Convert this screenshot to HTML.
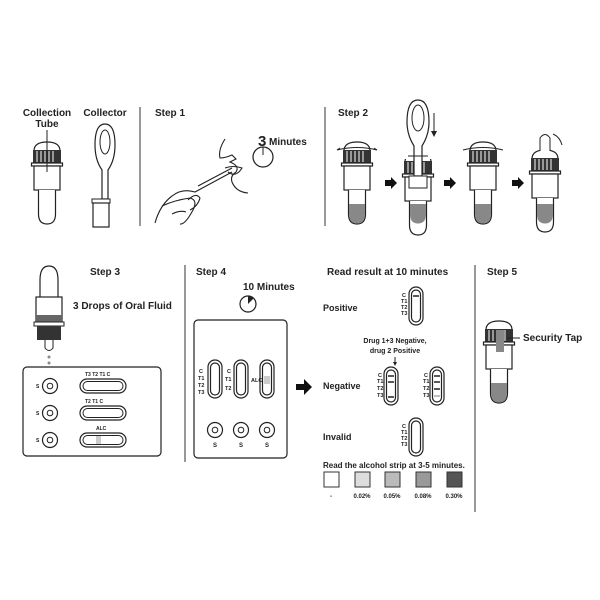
<!DOCTYPE html>
<html><head><style>html,body{margin:0;padding:0;background:#fff}svg{display:block}text{font-family:"Liberation Sans",sans-serif;font-weight:bold;fill:#222}</style></head><body>
<svg width="600" height="600" viewBox="0 0 600 600" xmlns="http://www.w3.org/2000/svg">
<defs>
<g id="tube">
 <path d="M-13 9 Q-13 0 0 0 Q13 0 13 9 V22 H-13 Z" fill="#fff" stroke="#222" stroke-width="1.2"/>
 <rect x="-14" y="8" width="28" height="13" fill="#333"/>
 <g stroke="#fff" stroke-width="1"><line x1="-10" y1="9" x2="-10" y2="20"/><line x1="-6" y1="9" x2="-6" y2="20"/><line x1="-2" y1="9" x2="-2" y2="20"/><line x1="2" y1="9" x2="2" y2="20"/><line x1="6" y1="9" x2="6" y2="20"/></g>
 <rect x="-15.5" y="21" width="31" height="3" fill="#fff" stroke="#222" stroke-width="1.2"/>
 <rect x="-13" y="24" width="26" height="24" fill="#fff" stroke="#222" stroke-width="1.2"/>
 <path d="M-8.5 48 V72 Q-8.5 82 0 82 Q8.5 82 8.5 72 V48" fill="#fff" stroke="#222" stroke-width="1.2"/>
</g>
<g id="liq"><path d="M-8 62 V72 Q-8 81.5 0 81.5 Q8 81.5 8 72 V62 Z" fill="#888"/></g>
<g id="harr"><path d="M0 -3 H6 V-6 L12 0 L6 6 V3 H0 Z" fill="#111"/></g>
<g id="strip"><rect x="-7" y="-19" width="14" height="38" rx="7" fill="#fff" stroke="#222" stroke-width="1.2"/><rect x="-4.5" y="-16" width="9" height="32" rx="4.5" fill="#fff" stroke="#222" stroke-width="1.2"/></g>
<g id="well"><circle r="7.5" fill="#fff" stroke="#222" stroke-width="1.2"/><circle r="2.8" fill="#fff" stroke="#222" stroke-width="1"/></g>
<g id="hstrip"><rect x="-23" y="-7" width="46" height="14" rx="7" fill="#fff" stroke="#222" stroke-width="1.2"/><rect x="-20" y="-4.5" width="40" height="9" rx="4.5" fill="#fff" stroke="#222" stroke-width="1"/></g>
</defs>

<g stroke="#555" stroke-width="1.2">
<line x1="140" y1="107" x2="140" y2="226"/><line x1="325" y1="107" x2="325" y2="226"/>
<line x1="185" y1="265" x2="185" y2="462"/><line x1="475" y1="265" x2="475" y2="512"/>
</g>

<text x="47" y="116" font-size="10" text-anchor="middle">Collection</text>
<text x="47" y="127" font-size="10" text-anchor="middle">Tube</text>
<text x="105" y="116" font-size="10" text-anchor="middle">Collector</text>
<use href="#tube" x="47" y="142"/>
<line x1="47" y1="130" x2="47" y2="172" stroke="#222" stroke-width="1"/>
<path d="M105 124 Q95 124 95 145 Q95 160 102 170 L102 199 H108 V170 Q115 160 115 145 Q115 124 105 124 Z" fill="#fff" stroke="#222" stroke-width="1.2"/>
<ellipse cx="105" cy="142" rx="5" ry="12" fill="#fff" stroke="#222" stroke-width="1"/>
<rect x="92" y="199" width="18" height="4" fill="#fff" stroke="#222"/>
<rect x="93" y="203" width="16" height="24" fill="#fff" stroke="#222" stroke-width="1.2"/>

<text x="155" y="116" font-size="10">Step 1</text>
<text x="258" y="146" font-size="15">3</text>
<text x="269" y="145" font-size="10">Minutes</text>
<circle cx="263" cy="157" r="10" fill="#fff" stroke="#222" stroke-width="1.2"/><line x1="263" y1="147" x2="263" y2="155" stroke="#222"/>
<g fill="none" stroke="#222" stroke-width="1.1">
<path d="M225 139 Q218 150 220 158 Q225 158 232 155 L236 159 L230 162 Q240 166 236 172 Q230 176 232 182 Q236 192 248 193"/>
<path d="M225 168 Q233 165 242 168 Q236 178 228 172"/>
<path d="M155 223 Q160 205 172 196 Q182 188 195 192 L232 172"/>
<path d="M198 186 L232 168"/>
<path d="M162 206 Q175 200 190 198 Q198 200 193 210 Q185 225 180 224"/>
<path d="M172 214 Q180 210 186 212"/>
<path d="M188 200 Q196 192 200 198 Q198 206 190 210"/>
</g>

<text x="338" y="116" font-size="10">Step 2</text>
<use href="#tube" x="357" y="142"/><use href="#liq" x="357" y="142"/>
<path d="M337 150 Q357 145 377 150" fill="none" stroke="#222"/>
<path d="M337 150 L340 148 M377 150 L374 148" fill="none" stroke="#222"/>
<use href="#harr" x="385" y="183"/>
<use href="#tube" x="418" y="153"/><use href="#liq" x="418" y="142"/>
<rect x="404" y="150" width="28" height="9" fill="#fff"/>
<path d="M418 100 Q407 100 407 122 Q407 135 414 146 V176 H422 V146 Q429 135 429 122 Q429 100 418 100 Z" fill="#fff" stroke="#222" stroke-width="1.2"/>
<ellipse cx="418" cy="118" rx="6" ry="13" fill="#fff" stroke="#222"/>
<rect x="409" y="176" width="18" height="12" fill="#fff" stroke="#222"/>
<line x1="408" y1="156" x2="428" y2="156" stroke="#222"/>
<line x1="434" y1="113" x2="434" y2="135" stroke="#222"/><path d="M431 131 L434 137 L437 131Z" fill="#222"/>
<use href="#harr" x="444" y="183"/>
<use href="#tube" x="483" y="142"/><use href="#liq" x="483" y="142"/>
<path d="M463 150 Q483 145 503 150" fill="none" stroke="#222"/>
<use href="#harr" x="512" y="183"/>
<use href="#tube" x="545" y="150"/><use href="#liq" x="545" y="142"/>
<path d="M540 151 V138 Q545 131 550 138 V151" fill="#fff" stroke="#222"/>
<path d="M553 134 Q560 137 562 145" fill="none" stroke="#222"/>

<text x="90" y="275" font-size="10">Step 3</text>
<text x="73" y="309" font-size="10">3 Drops of  Oral Fluid</text>
<path d="M40 318 V280 Q40 266 49 266 Q58 266 58 280 V318 Z" fill="#fff" stroke="#222" stroke-width="1.2"/>
<rect x="36" y="297" width="26" height="25" fill="#fff" stroke="#222" stroke-width="1.2"/>
<rect x="36" y="315" width="26" height="7" fill="#666"/>
<rect x="34" y="322" width="30" height="4" fill="#fff" stroke="#222"/>
<rect x="37" y="326" width="24" height="14" fill="#333"/>
<path d="M45 340 V348 Q49 353 53 348 V340" fill="#fff" stroke="#222"/>
<circle cx="49" cy="357" r="1.5" fill="#888"/><circle cx="49" cy="363" r="1.5" fill="#888"/>
<rect x="23" y="367" width="138" height="89" rx="4" fill="#fff" stroke="#222" stroke-width="1.2"/>
<use href="#well" x="50" y="386"/><use href="#well" x="50" y="413"/><use href="#well" x="50" y="440"/>
<use href="#hstrip" x="103" y="386"/><use href="#hstrip" x="103" y="413"/><use href="#hstrip" x="103" y="440"/>
<rect x="96" y="436" width="5" height="8" fill="#ccc"/>
<g font-size="5"><text x="36" y="388">S</text><text x="36" y="415">S</text><text x="36" y="442">S</text>
<text x="85" y="376">T3 T2 T1 C</text><text x="85" y="403">T2 T1  C</text><text x="96" y="430">ALC</text></g>

<text x="196" y="275" font-size="10">Step 4</text>
<text x="243" y="290" font-size="10">10 Minutes</text>
<circle cx="248" cy="304" r="8" fill="#fff" stroke="#222" stroke-width="1.2"/><path d="M248 304 V296 A8 8 0 0 1 254 298 Z" fill="#222"/>
<rect x="194" y="320" width="93" height="138" rx="4" fill="#fff" stroke="#222" stroke-width="1.2"/>
<use href="#strip" x="215" y="379"/><use href="#strip" x="241" y="379"/><use href="#strip" x="267" y="379"/>
<rect x="264" y="376" width="6" height="8" fill="#ccc"/>
<g font-size="5.5"><text x="199" y="373">C</text><text x="198" y="380">T1</text><text x="198" y="387">T2</text><text x="198" y="394">T3</text>
<text x="227" y="373">C</text><text x="225" y="381">T1</text><text x="225" y="390">T2</text><text x="251" y="382">ALC</text></g>
<use href="#well" x="215" y="430"/><use href="#well" x="241" y="430"/><use href="#well" x="267" y="430"/>
<g font-size="6"><text x="213" y="447">S</text><text x="239" y="447">S</text><text x="265" y="447">S</text></g>
<path d="M296 387 H304 V382 L312 390 L304 398 V393 H296 Z" fill="#111" transform="translate(0,-3)"/>

<text x="327" y="275" font-size="10">Read result at 10 minutes</text>
<text x="323" y="311" font-size="9">Positive</text>
<use href="#strip" x="416" y="306"/><line x1="413" y1="296" x2="419" y2="296" stroke="#222" stroke-width="1.5"/>
<g font-size="5.5"><text x="402" y="297">C</text><text x="401" y="303">T1</text><text x="401" y="309">T2</text><text x="401" y="315">T3</text></g>
<text x="395" y="343" font-size="7" text-anchor="middle">Drug 1+3 Negative,</text>
<text x="395" y="353" font-size="7" text-anchor="middle">drug 2 Positive</text>
<line x1="395" y1="357" x2="395" y2="363" stroke="#222"/><path d="M393 362 L395 366 L397 362Z" fill="#222"/>
<text x="323" y="389" font-size="9">Negative</text>
<use href="#strip" x="391" y="386"/><use href="#strip" x="437" y="386"/>
<g stroke="#222" stroke-width="1.5"><line x1="388" y1="376" x2="394" y2="376"/><line x1="388" y1="382" x2="394" y2="382"/><line x1="388" y1="397" x2="394" y2="397"/>
<line x1="434" y1="376" x2="440" y2="376"/><line x1="434" y1="382" x2="440" y2="382"/><line x1="434" y1="389" x2="440" y2="389"/><line x1="434" y1="396" x2="440" y2="396" stroke="#aaa"/></g>
<g font-size="5.5"><text x="378" y="377">C</text><text x="377" y="383">T1</text><text x="377" y="390">T2</text><text x="377" y="397">T3</text>
<text x="424" y="377">C</text><text x="423" y="383">T1</text><text x="423" y="390">T2</text><text x="423" y="397">T3</text></g>
<text x="323" y="440" font-size="9">Invalid</text>
<use href="#strip" x="416" y="437"/>
<g font-size="5.5"><text x="402" y="428">C</text><text x="401" y="434">T1</text><text x="401" y="440">T2</text><text x="401" y="446">T3</text></g>
<text x="323" y="468" font-size="8">Read the alcohol strip at 3-5 minutes.</text>
<rect x="324" y="472" width="15" height="15" fill="#fff" stroke="#333"/>
<rect x="355" y="472" width="15" height="15" fill="#ddd" stroke="#333"/>
<rect x="385" y="472" width="15" height="15" fill="#bbb" stroke="#333"/>
<rect x="416" y="472" width="15" height="15" fill="#999" stroke="#333"/>
<rect x="447" y="472" width="15" height="15" fill="#555" stroke="#333"/>
<g font-size="6" text-anchor="middle"><text x="331" y="498">-</text><text x="362" y="498">0.02%</text><text x="392" y="498">0.05%</text><text x="423" y="498">0.08%</text><text x="454" y="498">0.30%</text></g>

<text x="487" y="275" font-size="10">Step 5</text>
<use href="#tube" x="499" y="321"/><use href="#liq" x="499" y="321"/>
<rect x="496" y="330" width="8" height="22" fill="#888"/>
<line x1="507" y1="338" x2="520" y2="338" stroke="#222"/>
<text x="523" y="341" font-size="10">Security Tap</text>
</svg>
</body></html>
